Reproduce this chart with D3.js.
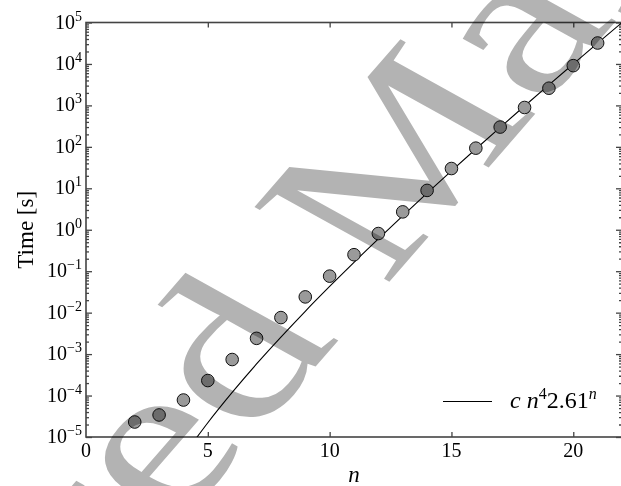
<!DOCTYPE html>
<meta charset="utf-8">
<style>
body { margin: 0; background: #fff; }
.axis path, .axis line { stroke: #444; stroke-width: 1.3px; }
.spine { fill: none; stroke: #444; stroke-width: 1.6px; }
.fit { fill: none; stroke: #000; stroke-width: 1.1px; }
.dot { fill: #9a9a9a; stroke: #111; stroke-width: 1px; }
.watermark { fill: #b3b3b3; mix-blend-mode: multiply; }
</style>
<body>
<script src="https://cdn.jsdelivr.net/npm/d3@7"></script>
<script>

var nValues = [2, 3, 4, 5, 6, 7, 8, 9, 10, 11, 12, 13, 14, 15, 16, 17, 18, 19, 20, 21];
var timeValues = [2.3e-5, 3.4e-5, 7.8e-5, 2.3e-4, 7.4e-4, 2.4e-3, 7.6e-3, 0.024, 0.076, 0.25,
                  0.81, 2.7, 8.9, 30, 93, 300, 890, 2600, 9100, 32000];

// fitted curve c n^4 2.61^n, sampled off the plot
var fitN = [4.5, 5, 6, 7, 8, 9, 10, 11, 12, 13, 14, 15, 16, 17, 18, 19, 20, 21, 22];
var fitTime = [8.97e-6, 2.21e-5, 1.19e-4, 5.78e-4, 2.57e-3, 1.08e-2, 4.28e-2, 0.164, 0.604, 2.17,
               7.64, 26.2, 88.7, 295, 968, 3130, 1.0e4, 3.18e4, 1.0e5];

// tick labels
var xTicks = [0, 5, 10, 15, 20];
var yExponents = [-5, -4, -3, -2, -1, 0, 1, 2, 3, 4, 5];

var serif = "'Liberation Serif', 'Times New Roman', serif";
var width = 621, height = 486;
var plot = {left: 86, right: 622, top: 22.5, bottom: 437};

var x = d3.scaleLinear().domain([0, 22]).range([plot.left, plot.right]);
var y = d3.scaleLog().domain([1e-5, 1e5]).range([plot.bottom, plot.top]);

var svg = d3.select("body").append("svg")
    .attr("width", width)
    .attr("height", height);

svg.append("clipPath").attr("id", "clip")
  .append("rect")
    .attr("x", plot.left).attr("y", plot.top)
    .attr("width", plot.right - plot.left)
    .attr("height", plot.bottom - plot.top);

var majors = yExponents.map(function(e) { return Math.pow(10, e); });
var minors = [];
yExponents.slice(0, -1).forEach(function(e) {
  for (var k = 2; k < 10; k++) minors.push(k * Math.pow(10, e));
});

// ticks, all pointing inwards
function addAxis(axis, tx, ty) {
  svg.append("g")
      .attr("class", "axis")
      .attr("transform", "translate(" + tx + "," + ty + ")")
      .call(axis.tickFormat("").tickSizeOuter(0))
      .call(function(g) { g.select(".domain").remove(); });
}
addAxis(d3.axisLeft(y).tickValues(majors).tickSizeInner(-6), plot.left, 0);
addAxis(d3.axisLeft(y).tickValues(minors).tickSizeInner(-3), plot.left, 0);
addAxis(d3.axisRight(y).tickValues(majors).tickSizeInner(-6), plot.right, 0);
addAxis(d3.axisRight(y).tickValues(minors).tickSizeInner(-3), plot.right, 0);
addAxis(d3.axisBottom(x).tickValues(xTicks.slice(1)).tickSizeInner(-5), 0, plot.bottom);
addAxis(d3.axisTop(x).tickValues(xTicks.slice(1)).tickSizeInner(-5), 0, plot.top);

// frame
svg.append("rect")
    .attr("class", "spine")
    .attr("x", plot.left).attr("y", plot.top)
    .attr("width", plot.right - plot.left)
    .attr("height", plot.bottom - plot.top);

// y tick labels 10^e
var yl = svg.selectAll(".ylab")
    .data(yExponents)
  .enter().append("text")
    .attr("class", "ylab")
    .attr("x", plot.left - 4)
    .attr("y", function(e) { return y(Math.pow(10, e)) + 6; })
    .attr("text-anchor", "end")
    .style("font-family", serif)
    .style("font-size", "20px");
yl.append("tspan").text("10");
yl.append("tspan")
    .attr("dy", -8)
    .style("font-size", "14px")
    .text(function(e) { return e < 0 ? "\u2212" + (-e) : e; });

// x tick labels
svg.selectAll(".xlab")
    .data(xTicks)
  .enter().append("text")
    .attr("class", "xlab")
    .attr("x", function(d) { return x(d); })
    .attr("y", plot.bottom + 20)
    .attr("text-anchor", "middle")
    .style("font-family", serif)
    .style("font-size", "20px")
    .text(function(d) { return d; });

// axis titles
svg.append("text")
    .attr("transform", "translate(33," + ((plot.top + plot.bottom) / 2) + ") rotate(-90)")
    .attr("text-anchor", "middle")
    .style("font-family", serif)
    .style("font-size", "23px")
    .text("Time [s]");

svg.append("text")
    .attr("x", (plot.left + plot.right) / 2)
    .attr("y", 482)
    .attr("text-anchor", "middle")
    .style("font-family", serif)
    .style("font-size", "23px")
    .style("font-style", "italic")
    .text("n");

// fitted line
var fitData = fitN.map(function(n, i) { return {n: n, t: fitTime[i]}; });
var line = d3.line()
    .x(function(d) { return x(d.n); })
    .y(function(d) { return y(d.t); })
    .curve(d3.curveMonotoneX);

svg.append("path")
    .datum(fitData)
    .attr("class", "fit")
    .attr("clip-path", "url(#clip)")
    .attr("d", line);

// data points
svg.selectAll(".dot")
    .data(nValues)
  .enter().append("circle")
    .attr("class", "dot")
    .attr("cx", function(d) { return x(d); })
    .attr("cy", function(d, i) { return y(timeValues[i]); })
    .attr("r", 6.3);

// legend
svg.append("line")
    .attr("x1", 443).attr("x2", 492)
    .attr("y1", 401.5).attr("y2", 401.5)
    .attr("stroke", "#000").attr("stroke-width", 1.1);

var lg = svg.append("text")
    .attr("x", 510)
    .attr("y", 408)
    .style("font-family", serif)
    .style("font-size", "24px");
lg.append("tspan").style("font-style", "italic").text("c n");
lg.append("tspan").attr("dy", -9).style("font-size", "16px").text("4");
lg.append("tspan").attr("dy", 9).text("2.61");
lg.append("tspan").attr("dy", -9).style("font-size", "16px").style("font-style", "italic").text("n");

// watermark (skewed diagonal stamp)
svg.append("text")
    .attr("class", "watermark")
    .attr("transform", "matrix(1.756,-2.02,2.06,1.14,-322.5,1100.6)")
    .style("font-family", serif)
    .style("font-size", "100px")
    .text("Accepted Manuscript");

</script>
</body>
